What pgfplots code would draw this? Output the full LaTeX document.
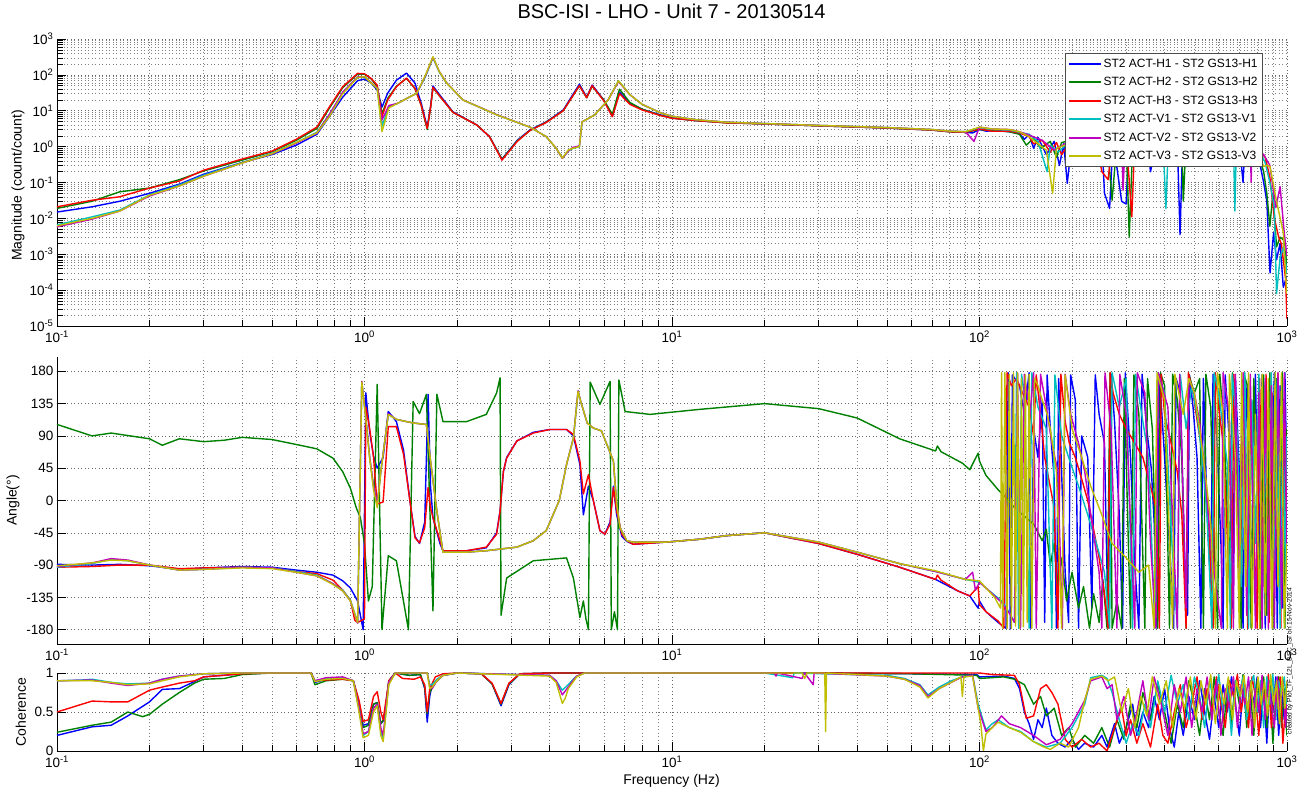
\documentclass[border=0pt]{standalone}
\usepackage{fontspec}
\setmainfont{Liberation Sans}
\usepackage{pgfplots}
\pgfplotsset{compat=1.18}
\definecolor{mblue}{rgb}{0,0,1}
\definecolor{mgreen}{rgb}{0,0.5,0}
\definecolor{mred}{rgb}{1,0,0}
\definecolor{mcyan}{rgb}{0,0.75,0.75}
\definecolor{mmag}{rgb}{0.75,0,0.75}
\definecolor{myel}{rgb}{0.75,0.75,0}
\pgfplotsset{
  every axis/.append style={
    scale only axis, width=1230pt,
    xmin=0.1, xmax=1000,
    axis x line*=bottom, axis y line*=left,
    axis line style={-, black, line width=0.6pt},
    tick align=inside,
    tick style={black, line width=0.5pt},
    major tick length=9pt, minor tick length=6pt,
    xtick={0.1,1,10,100,1000},
    xticklabels={10\textsuperscript{-1},10\textsuperscript{0},10\textsuperscript{1},10\textsuperscript{2},10\textsuperscript{3}},
    minor xtick={0.2,0.3,0.4,0.5,0.6,0.7,0.8,0.9,2,3,4,5,6,7,8,9,20,30,40,50,60,70,80,90,200,300,400,500,600,700,800,900},
    grid=both,
    major grid style={black!60, line width=0.5pt, dash pattern=on 0.9pt off 2.6pt},
    minor grid style={black!50, line width=0.5pt, dash pattern=on 0.9pt off 2.6pt},
    tick label style={font=\fontsize{13.5}{16}\selectfont},
    xticklabel style={yshift=-1.5pt},
    every axis label/.append style={font=\fontsize{14}{16}\selectfont},
  },
  every axis plot/.append style={line width=1.4pt, line join=round},
}
\begin{document}
\begin{tikzpicture}
\useasboundingbox (0,0) rectangle (1299pt,792pt);
% ---------------- Magnitude ----------------
\begin{loglogaxis}[at={(57pt,753pt)}, anchor=north west, height=287pt,
  ymin=1e-5, ymax=1e3,
  ytick={1e-5,1e-4,1e-3,1e-2,1e-1,1,10,100,1000},
  yticklabels={10\textsuperscript{-5},10\textsuperscript{-4},10\textsuperscript{-3},10\textsuperscript{-2},10\textsuperscript{-1},10\textsuperscript{0},10\textsuperscript{1},10\textsuperscript{2},10\textsuperscript{3}},
  minor ytick={2e-5,3e-5,4e-5,5e-5,6e-5,7e-5,8e-5,9e-5,2e-4,3e-4,4e-4,5e-4,6e-4,7e-4,8e-4,9e-4,2e-3,3e-3,4e-3,5e-3,6e-3,7e-3,8e-3,9e-3,2e-2,3e-2,4e-2,5e-2,6e-2,7e-2,8e-2,9e-2,0.2,0.3,0.4,0.5,0.6,0.7,0.8,0.9,2,3,4,5,6,7,8,9,20,30,40,50,60,70,80,90,200,300,400,500,600,700,800,900},
  ylabel={Magnitude (count/count)},
  ylabel style={at={(axis description cs:-0.0317,0.49)}, anchor=center},
  title={BSC-ISI - LHO - Unit 7 - 20130514},
  title style={at={(axis description cs:0.4996,1)}, anchor=center, yshift=21.5pt, font=\fontsize{20}{23}\selectfont},
  legend style={at={(axis description cs:0.9805,0.951)}, anchor=north east, font=\fontsize{12}{14}\selectfont, draw=black!70, line width=0.6pt, fill=white, inner xsep=3pt, inner ysep=3.5pt, row sep=4.6pt},
  legend cell align=left,
  legend image post style={xscale=1.85, line width=1.8pt},
]
\addplot[mblue, no markers] coordinates {(0.1,0.015)(0.13,0.021)(0.16,0.03)(0.2,0.05)(0.25,0.09)(0.3,0.17)(0.4,0.36)(0.5,0.6)(0.6,1.1)(0.7,2.2)(0.77,7)(0.85,24)(0.95,69)(1.0,76)(1.05,60)(1.1,38)(1.14,12.6)(1.19,31)(1.27,71)(1.37,112)(1.46,59)(1.53,16)(1.6,3.5)(1.64,13)(1.67,49)(1.76,27)(1.94,9.3)(2.32,4)(2.55,1.9)(2.8,0.45)(3.14,1.5)(3.45,2.9)(3.9,4.9)(4.43,10.5)(5.0,55)(5.28,24)(5.5,52)(6.0,20)(6.4,7)(6.75,33)(7.3,16)(8,11)(9.2,7.6)(10,6.3)(12,5.3)(15,4.7)(20,4.3)(30,3.8)(50,3.3)(70,2.9)(80,2.6)(90,2.5)(95,2.4)(100,3.0)(105,2.7)(115,2.8)(125,2.6)(135,2.3)(140,1.6)(145,2.2)(150,0.9)(155,1.8)(165,0.6)(175,1.4)(182,0.3)(188,1.2)(193,0.095)(200,1.5)(250,1.8)(255,0.05)(265,0.019)(272,1.5)(290,0.03)(300,0.025)(306,1.4)(330,2.0)(350,1.6)(360,0.2)(380,1.8)(440,1.5)(449,0.0035)(458,1.2)(500,1.7)(600,1.9)(700,1.2)(720,0.1)(730,1.0)(800,0.8)(840,0.1)(860,0.03)(881,0.0003)(905,0.004)(925,0.0007)(950,0.002)(973,0.00012)(1000,0.00025)};
\addlegendentry{ST2 ACT-H1 - ST2 GS13-H1}
\addplot[mgreen, no markers] coordinates {(0.1,0.019)(0.13,0.03)(0.16,0.055)(0.2,0.07)(0.25,0.12)(0.3,0.21)(0.4,0.42)(0.5,0.72)(0.6,1.5)(0.7,3.2)(0.77,12)(0.85,44)(0.95,105)(1.0,104)(1.05,78)(1.1,48)(1.14,8)(1.19,22)(1.27,48)(1.37,80)(1.46,41)(1.53,14)(1.6,3.0)(1.64,12)(1.67,44)(1.76,25)(1.94,9)(2.32,4)(2.55,1.9)(2.8,0.44)(3.14,1.45)(3.45,2.8)(3.9,4.8)(4.43,10)(5.0,50)(5.28,23)(5.5,48)(6.0,20)(6.4,8)(6.75,40)(7.3,17)(8,11)(9.2,7.4)(10,6.2)(12,5.3)(15,4.6)(20,4.3)(30,3.8)(50,3.3)(70,2.9)(80,2.6)(90,2.5)(100,3.0)(110,2.8)(125,2.6)(135,2.2)(142,1.1)(150,1.7)(158,0.9)(170,1.4)(178,0.5)(185,1.3)(200,1.5)(260,1.6)(270,0.032)(280,1.4)(300,1.6)(307,0.003)(315,1.2)(400,1.9)(455,1.3)(460,0.03)(470,1.5)(600,1.8)(750,1.3)(800,0.7)(840,0.2)(860,0.05)(880,0.006)(900,0.05)(925,0.0016)(950,0.003)(975,0.0025)(1000,0.0005)};
\addlegendentry{ST2 ACT-H2 - ST2 GS13-H2}
\addplot[mred, no markers] coordinates {(0.1,0.021)(0.13,0.032)(0.16,0.04)(0.2,0.07)(0.25,0.11)(0.3,0.22)(0.4,0.45)(0.5,0.75)(0.6,1.6)(0.7,3.5)(0.77,13)(0.85,47)(0.95,110)(1.0,107)(1.05,80)(1.1,52)(1.14,6.8)(1.19,20)(1.27,47)(1.37,81)(1.46,42)(1.53,14)(1.6,3.2)(1.64,12)(1.67,45)(1.76,25)(1.94,9)(2.32,4)(2.55,1.9)(2.8,0.42)(3.14,1.4)(3.45,2.8)(3.9,4.7)(4.43,10)(5.0,50)(5.28,23)(5.5,50)(6.0,19)(6.4,6.8)(6.75,30)(7.3,15)(8,10.5)(9.2,7.3)(10,6.2)(12,5.3)(15,4.6)(20,4.3)(30,3.8)(50,3.3)(70,2.9)(80,2.6)(90,2.5)(100,3.1)(110,2.7)(125,2.7)(135,2.4)(145,1.9)(150,1.2)(160,1.5)(170,0.7)(178,1.3)(185,0.6)(200,1.6)(240,1.8)(250,0.2)(262,0.12)(270,1.2)(300,1.7)(313,0.011)(320,1.5)(400,2)(500,1.6)(600,1.9)(700,1.4)(800,0.9)(850,0.5)(880,0.14)(910,0.01)(940,0.003)(960,0.0019)(990,0.0002)(1000,0.000016)};
\addlegendentry{ST2 ACT-H3 - ST2 GS13-H3}
\addplot[mcyan, no markers] coordinates {(0.1,0.0066)(0.13,0.011)(0.16,0.017)(0.2,0.045)(0.25,0.085)(0.3,0.16)(0.4,0.36)(0.5,0.65)(0.6,1.3)(0.7,2.5)(0.77,8)(0.85,32)(0.95,85)(1.0,85)(1.05,60)(1.1,42)(1.14,3.7)(1.2,13)(1.28,16)(1.48,31)(1.58,90)(1.67,300)(1.75,120)(1.85,59)(2.09,20)(2.7,7.6)(3.45,3.5)(3.9,1.9)(4.2,0.9)(4.4,0.48)(4.6,0.75)(4.76,0.9)(5.0,1.0)(5.1,4.9)(5.6,7.6)(6.2,20)(6.7,68)(7.3,28)(8,15)(9.2,8.7)(10,7)(12,5.6)(15,4.8)(20,4.4)(30,3.9)(50,3.4)(70,3.0)(80,2.7)(90,2.6)(100,3.4)(110,3.0)(125,2.9)(135,2.5)(145,2.2)(155,1.4)(166,0.2)(170,1.1)(180,0.7)(200,1.6)(300,1.9)(395,1.7)(404,0.019)(412,1.5)(500,1.9)(670,1.4)(677,0.016)(685,1.2)(800,1.1)(850,0.35)(880,0.1)(910,0.02)(925,0.00008)(950,0.0008)(975,0.0016)(1000,0.0003)};
\addlegendentry{ST2 ACT-V1 - ST2 GS13-V1}
\addplot[mmag, no markers] coordinates {(0.1,0.0058)(0.13,0.0095)(0.16,0.016)(0.2,0.042)(0.25,0.08)(0.3,0.15)(0.4,0.35)(0.5,0.63)(0.6,1.25)(0.7,2.4)(0.77,8)(0.85,33)(0.95,88)(1.0,88)(1.05,62)(1.1,43)(1.14,5.5)(1.2,14)(1.28,16)(1.48,31)(1.58,95)(1.67,310)(1.75,125)(1.85,60)(2.09,20)(2.7,7.7)(3.45,3.5)(3.9,1.9)(4.2,0.9)(4.4,0.47)(4.6,0.75)(4.76,0.95)(5.0,1.05)(5.1,4.9)(5.6,7.6)(6.2,20)(6.7,65)(7.3,28)(8,15)(9.2,8.7)(10,7)(12,5.6)(15,4.8)(20,4.4)(30,3.9)(50,3.4)(70,3.0)(80,2.7)(90,2.6)(96,1.4)(100,3.5)(110,3.1)(125,3.0)(135,2.6)(145,2.1)(160,1.5)(175,0.8)(190,1.2)(200,1.5)(290,1.8)(293,0.06)(298,1.5)(500,1.9)(760,1.3)(765,0.1)(770,1.1)(840,0.6)(880,0.3)(920,0.02)(950,0.076)(980,0.004)(1000,0.0009)};
\addlegendentry{ST2 ACT-V2 - ST2 GS13-V2}
\addplot[myel, no markers] coordinates {(0.1,0.0062)(0.13,0.01)(0.16,0.016)(0.2,0.044)(0.25,0.08)(0.3,0.15)(0.4,0.35)(0.5,0.63)(0.6,1.3)(0.7,2.4)(0.77,7)(0.85,30)(0.95,85)(1.0,89)(1.05,60)(1.1,42)(1.14,2.6)(1.2,12)(1.28,16)(1.48,31)(1.58,100)(1.67,320)(1.75,125)(1.85,59)(2.09,20)(2.7,7.6)(3.45,3.5)(3.9,1.9)(4.2,0.9)(4.4,0.48)(4.6,0.8)(4.76,0.9)(5.0,1.0)(5.1,4.9)(5.6,7.6)(6.2,20)(6.7,68)(7.3,28)(8,15)(9.2,8.7)(10,7)(12,5.6)(15,4.8)(20,4.4)(30,3.9)(50,3.4)(70,3.0)(80,2.7)(90,2.6)(100,3.5)(110,3.1)(125,3.0)(135,2.6)(145,1.9)(155,1.2)(165,0.8)(173,0.05)(178,0.9)(190,1.1)(200,1.5)(500,1.9)(800,1.3)(838,0.28)(860,0.3)(881,0.28)(925,0.03)(973,0.004)(998,0.00008)};
\addlegendentry{ST2 ACT-V3 - ST2 GS13-V3}
\end{loglogaxis}
% ---------------- Phase ----------------
\begin{semilogxaxis}[at={(57pt,435pt)}, anchor=north west, height=287pt,
  ymin=-200, ymax=200,
  ytick={-180,-135,-90,-45,0,45,90,135,180},
  yticklabels={-180,-135,-90,-45,0,45,90,135,180},
  ylabel={Angle(°)},
  ylabel style={at={(axis description cs:-0.0358,0.5)}, anchor=center},
]
\addplot[mblue, no markers] coordinates {(0.1,-89)(0.13,-90)(0.16,-89)(0.2,-91)(0.25,-96)(0.3,-94)(0.4,-92)(0.5,-93)(0.6,-97)(0.7,-100)(0.79,-104)(0.85,-112)(0.9,-122)(0.95,-140)(0.99,-180)(1.01,150)(1.04,95)(1.07,62)(1.1,45)(1.15,60)(1.195,124)(1.27,110)(1.34,70)(1.41,-5)(1.46,-50)(1.51,-60)(1.57,-30)(1.61,148)(1.64,20)(1.67,-24)(1.76,-60)(1.80,-70)(2.15,-70)(2.49,-66)(2.69,-45)(2.76,-15)(2.83,40)(2.90,60)(3.13,83)(3.54,95)(4.01,99)(4.54,99)(4.78,90)(5.02,50)(5.15,-20)(5.35,20)(5.55,0)(5.83,-42)(6.05,-47)(6.29,-30)(6.45,20)(6.61,-20)(6.87,-50)(7.13,-57)(7.48,-61)(9.58,-58)(12.3,-54)(15,-49)(20,-45)(30,-60)(40,-75)(55,-93)(72,-110)(85,-126)(93,-133)(99,-150)(100,-140)(105,-155)(115,-170)(122,-178)(124,178)(126,-179)(128,175)(135,160)(140,120)(145,178)(147,-178)(150,100)(155,60)(160,140)(163,-170)(166,175)(170,100)(175,30)(178,-178)(181,170)(185,40)(190,-100)(195,-170)(198,175)(205,140)(210,-178)(215,90)(225,60)(232,-150)(238,175)(245,120)(255,80)(262,-175)(268,176)(275,110)(285,-20)(292,-178)(298,178)(310,60)(320,-90)(330,-178)(338,176)(350,100)(362,45)(370,-30)(378,-178)(385,175)(400,60)(412,-40)(420,-100)(428,-178)(436,170)(450,150)(465,-80)(475,-160)(482,175)(495,130)(510,60)(525,-178)(535,170)(550,-20)(565,-120)(575,176)(590,100)(610,-60)(620,-178)(630,175)(650,80)(665,-150)(680,170)(700,40)(720,-178)(735,165)(750,60)(770,-120)(790,176)(810,-100)(830,175)(850,-178)(870,120)(890,-60)(910,178)(930,-178)(950,160)(970,-150)(985,178)(1000,20)};
\addplot[mgreen, no markers] coordinates {(0.1,106)(0.13,90)(0.15,94)(0.2,86)(0.22,77)(0.25,86)(0.3,82)(0.35,84)(0.4,88)(0.5,85)(0.617,77)(0.7,72)(0.79,59)(0.85,40)(0.9,17)(0.94,-10)(0.97,-24)(1.0,-60)(1.03,-140)(1.06,-120)(1.1,162)(1.14,-180)(1.195,-77)(1.27,-84)(1.39,-180)(1.44,138)(1.51,121)(1.59,148)(1.67,-154)(1.72,148)(1.80,110)(2.15,110)(2.49,120)(2.69,150)(2.76,171)(2.78,-160)(2.90,-108)(3.54,-84)(4.54,-80)(4.78,-108)(5.02,-163)(5.15,-140)(5.25,-165)(5.35,-180)(5.42,165)(5.83,134)(6.29,166)(6.35,-180)(6.5,-155)(6.65,-180)(6.72,168)(7.04,124)(8.48,120)(12.3,127)(20,135)(30,128)(40,115)(55,86)(72,69)(73,76)(75,68)(88,52)(93,43)(99,66)(100,55)(105,35)(115,15)(122,4)(130,-10)(150,-33)(160,-56)(165,-40)(170,-90)(175,-60)(180,-120)(185,-80)(192,-140)(200,-100)(210,-150)(218,-120)(228,-178)(235,-130)(245,-170)(252,-110)(260,-178)(266,178)(270,-178)(280,-140)(290,-178)(296,170)(300,60)(310,-178)(318,175)(330,120)(345,-178)(352,170)(365,100)(380,-178)(388,178)(400,160)(415,-178)(425,176)(440,140)(455,60)(470,-178)(480,175)(500,150)(520,170)(535,-178)(545,176)(565,130)(580,-60)(595,-178)(605,176)(625,100)(650,-100)(665,178)(690,20)(710,-178)(725,175)(745,160)(765,-178)(780,170)(800,40)(820,-178)(840,175)(860,-160)(880,178)(900,-178)(925,170)(945,-120)(965,178)(985,-178)(1000,100)};
\addplot[mred, no markers] coordinates {(0.1,-93)(0.13,-92)(0.16,-90)(0.2,-90)(0.25,-95)(0.3,-94)(0.4,-93)(0.5,-94)(0.6,-99)(0.7,-102)(0.79,-111)(0.85,-125)(0.9,-139)(0.93,-167)(0.95,-170)(1.0,-165)(1.01,130)(1.04,100)(1.07,60)(1.1,-5)(1.15,-2)(1.195,103)(1.27,103)(1.34,64)(1.41,-5)(1.46,-52)(1.51,-59)(1.57,-38)(1.61,18)(1.64,-10)(1.67,-24)(1.76,-56)(1.80,-70)(2.15,-70)(2.49,-65)(2.69,-47)(2.76,-15)(2.83,41)(2.90,59)(3.13,83)(3.54,94)(4.01,99)(4.54,99)(4.78,92)(5.02,55)(5.15,9)(5.35,36)(5.55,0)(5.83,-42)(6.05,-47)(6.29,-33)(6.45,18)(6.61,-15)(6.87,-47)(7.13,-56)(7.48,-61)(9.58,-58)(12.3,-54)(15,-49)(20,-45)(30,-60)(40,-75)(55,-93)(72,-110)(73,-104)(75,-111)(85,-126)(93,-133)(99,-120)(100,-145)(105,-155)(115,-168)(120,-178)(123,178)(127,160)(132,170)(138,150)(145,130)(150,90)(153,175)(158,120)(163,60)(168,30)(175,-10)(180,-178)(184,176)(190,110)(196,80)(205,60)(215,30)(225,0)(235,-40)(245,-80)(255,-130)(262,-178)(266,178)(272,150)(285,120)(300,100)(320,80)(340,60)(360,20)(375,-10)(385,-178)(390,176)(400,120)(420,80)(440,40)(455,-20)(470,-178)(478,178)(495,150)(515,100)(535,60)(555,-20)(575,-178)(585,178)(600,130)(620,80)(640,-50)(660,-178)(672,176)(690,60)(710,-100)(725,178)(745,-178)(760,120)(780,-40)(800,-178)(815,170)(835,-120)(855,176)(875,-170)(895,150)(915,-90)(935,178)(955,-178)(975,140)(1000,-60)};
\addplot[mcyan, no markers] coordinates {(0.1,-93)(0.13,-88)(0.15,-82)(0.17,-84)(0.2,-90)(0.25,-97)(0.3,-96)(0.4,-93)(0.5,-94)(0.6,-99)(0.7,-104)(0.79,-116)(0.85,-125)(0.9,-139)(0.95,-170)(0.98,165)(1.01,115)(1.04,60)(1.07,20)(1.1,-5)(1.13,40)(1.195,120)(1.27,113)(1.44,108)(1.59,106)(1.64,55)(1.72,-15)(1.80,-72)(2.15,-72)(2.49,-70)(3.13,-65)(3.54,-56)(3.9,-42)(4.3,0)(4.54,50)(4.78,87)(4.95,152)(5.05,138)(5.3,108)(5.55,101)(5.9,97)(6.45,55)(6.61,-5)(6.78,-38)(7.13,-56)(7.48,-58)(9.58,-58)(12.3,-54)(15,-49)(20,-45)(30,-58)(40,-72)(55,-88)(72,-99)(90,-110)(100,-114)(105,-122)(118,-140)(125,-156)(130,-170)(132,178)(134,-178)(137,176)(140,150)(145,-178)(148,178)(155,130)(165,100)(172,-178)(176,175)(185,90)(195,60)(210,20)(225,-20)(240,-60)(255,-100)(265,-178)(270,178)(285,130)(300,170)(315,-178)(322,176)(340,110)(355,60)(372,-178)(380,178)(400,150)(420,-40)(440,-178)(450,175)(470,100)(490,160)(510,120)(530,60)(550,-20)(570,-178)(580,178)(600,150)(620,100)(640,50)(655,-178)(665,176)(690,90)(710,-120)(730,178)(750,-178)(770,140)(790,-60)(810,176)(830,-178)(850,100)(870,-150)(890,178)(910,-120)(930,170)(950,-178)(970,120)(990,-100)(1000,90)};
\addplot[mmag, no markers] coordinates {(0.1,-92)(0.13,-87)(0.15,-81)(0.17,-83)(0.2,-90)(0.25,-97)(0.3,-96)(0.4,-93)(0.5,-94)(0.6,-100)(0.7,-105)(0.79,-116)(0.85,-126)(0.9,-140)(0.95,-171)(0.98,166)(1.01,116)(1.04,60)(1.07,20)(1.1,-5)(1.13,40)(1.195,121)(1.27,113)(1.44,108)(1.59,106)(1.64,55)(1.72,-15)(1.80,-72)(2.15,-72)(2.49,-70)(3.13,-65)(3.54,-56)(3.9,-42)(4.3,0)(4.54,50)(4.78,87)(4.95,153)(5.05,138)(5.3,108)(5.55,101)(5.9,97)(6.45,55)(6.61,-5)(6.78,-38)(7.13,-56)(7.48,-58)(9.58,-58)(12.3,-54)(15,-49)(20,-45)(30,-58)(40,-72)(55,-88)(72,-99)(90,-110)(95,-100)(97,-125)(100,-114)(105,-122)(118,-142)(125,-157)(130,-170)(133,178)(136,-178)(140,176)(146,120)(150,178)(153,-178)(158,176)(165,130)(172,80)(180,40)(186,-178)(190,176)(198,120)(210,80)(220,40)(232,-30)(245,-100)(250,-178)(256,178)(268,100)(280,-178)(286,176)(300,120)(320,-178)(326,178)(345,150)(360,-60)(375,-178)(382,178)(410,130)(440,-178)(448,176)(470,-150)(480,170)(500,150)(520,110)(540,40)(560,-40)(580,-100)(600,-150)(612,-178)(620,178)(650,120)(670,-178)(680,176)(700,-120)(720,178)(740,-160)(760,176)(790,-178)(810,150)(830,-178)(850,170)(870,-178)(890,160)(910,-178)(935,178)(960,-150)(980,178)(1000,-60)};
\addplot[myel, no markers] coordinates {(0.1,-91)(0.13,-87)(0.15,-83)(0.17,-84)(0.2,-90)(0.25,-97)(0.3,-96)(0.4,-94)(0.5,-95)(0.6,-100)(0.7,-105)(0.79,-117)(0.85,-126)(0.9,-140)(0.95,-170)(0.98,165)(1.01,114)(1.04,58)(1.07,15)(1.1,-10)(1.13,40)(1.195,120)(1.27,113)(1.44,108)(1.59,106)(1.64,55)(1.72,-15)(1.80,-72)(2.15,-72)(2.49,-70)(3.13,-65)(3.54,-56)(3.9,-42)(4.3,0)(4.54,50)(4.78,87)(4.95,152)(5.05,138)(5.3,108)(5.55,101)(5.9,97)(6.45,55)(6.61,-5)(6.78,-38)(7.13,-56)(7.48,-58)(9.58,-58)(12.3,-54)(15,-49)(20,-45)(30,-58)(40,-72)(55,-88)(72,-98)(90,-110)(100,-112)(105,-122)(112,-135)(117,-150)(118,178)(119,-178)(121,178)(123,-178)(125,176)(127,-178)(129,178)(131,-175)(133,178)(135,-178)(137,170)(139,-176)(141,175)(143,-170)(145,176)(148,-178)(151,170)(155,160)(160,140)(166,120)(170,100)(178,40)(185,-178)(190,175)(200,100)(215,60)(230,20)(250,-20)(270,-60)(300,-80)(330,-100)(355,-90)(370,-178)(378,178)(400,140)(425,-178)(432,176)(460,120)(480,170)(500,150)(520,100)(545,30)(565,-30)(585,-178)(595,178)(620,120)(640,-178)(650,176)(680,60)(700,-178)(712,178)(735,-120)(750,178)(770,-178)(790,120)(815,-178)(830,176)(850,-160)(870,170)(895,-178)(915,178)(935,-120)(960,178)(980,-178)(1000,-60)};
\end{semilogxaxis}
% ---------------- Coherence ----------------
\begin{semilogxaxis}[at={(57pt,119pt)}, anchor=north west, height=78pt,
  ymin=0, ymax=1,
  ytick={0,0.5,1}, yticklabels={0,0.5,1},
  ylabel={Coherence},
  ylabel style={at={(axis description cs:-0.0293,0.5)}, anchor=center},
  xlabel={Frequency (Hz)},
  xlabel style={at={(axis description cs:0.4996,0)}, anchor=center, yshift=-30pt},
]
\addplot[mblue, no markers] coordinates {(0.1,0.2)(0.13,0.31)(0.15,0.33)(0.17,0.45)(0.2,0.63)(0.22,0.79)(0.25,0.8)(0.28,0.89)(0.3,0.95)(0.4,0.99)(0.5,1)(0.67,1)(0.69,0.88)(0.75,0.92)(0.85,0.93)(0.92,0.9)(0.96,0.6)(0.99,0.33)(1.03,0.35)(1.07,0.6)(1.10,0.62)(1.13,0.35)(1.16,0.4)(1.2,0.9)(1.26,1)(1.4,0.97)(1.52,0.98)(1.57,0.8)(1.6,0.37)(1.63,0.7)(1.66,0.85)(1.72,0.9)(1.8,0.97)(2.0,1)(2.4,0.99)(2.6,0.86)(2.78,0.58)(2.95,0.85)(3.2,0.99)(4,1)(30,1)(60,0.99)(98,0.98)(100,0.95)(120,0.96)(130,0.93)(135,0.8)(140,0.5)(145,0.35)(150,0.15)(155,0.4)(160,0.3)(165,0.55)(172,0.2)(180,0.1)(190,0.05)(200,0.15)(210,0.02)(220,0.1)(235,0.05)(250,0.2)(260,0.05)(275,0.35)(285,0.1)(300,0.3)(315,0.6)(325,0.2)(340,0.5)(355,0.3)(370,0.7)(385,0.4)(400,0.8)(415,0.3)(430,0.05)(445,0.5)(460,0.2)(480,0.7)(500,0.4)(520,0.9)(540,0.5)(560,0.15)(580,0.7)(600,0.3)(620,0.85)(640,0.5)(660,0.95)(680,0.6)(700,0.2)(720,0.8)(740,0.4)(760,0.9)(780,0.6)(800,0.95)(820,0.3)(840,0.8)(860,0.1)(880,0.9)(900,0.5)(920,0.95)(940,0.2)(960,0.8)(980,0.4)(1000,0.9)};
\addplot[mgreen, no markers] coordinates {(0.1,0.24)(0.13,0.33)(0.15,0.37)(0.17,0.5)(0.19,0.44)(0.2,0.47)(0.22,0.6)(0.25,0.75)(0.28,0.87)(0.3,0.92)(0.35,0.93)(0.4,0.98)(0.5,1)(0.67,1)(0.69,0.85)(0.75,0.9)(0.85,0.92)(0.92,0.9)(0.96,0.6)(0.99,0.3)(1.03,0.33)(1.07,0.6)(1.10,0.62)(1.13,0.35)(1.16,0.42)(1.2,0.9)(1.26,1)(1.4,0.97)(1.52,0.98)(1.57,0.82)(1.6,0.48)(1.63,0.75)(1.7,0.88)(1.8,0.97)(2.0,1)(2.4,0.99)(2.6,0.86)(2.78,0.6)(2.95,0.86)(3.2,0.99)(4,1)(30,1)(60,0.99)(98,0.97)(100,0.93)(120,0.95)(130,0.92)(140,0.85)(150,0.6)(158,0.7)(165,0.45)(175,0.55)(185,0.2)(195,0.3)(205,0.05)(220,0.2)(235,0.1)(250,0.3)(265,0.05)(280,0.4)(295,0.15)(310,0.6)(325,0.3)(340,0.75)(360,0.4)(380,0.85)(400,0.5)(420,0.1)(440,0.6)(460,0.3)(480,0.9)(500,0.6)(520,0.2)(540,0.8)(560,0.4)(580,0.95)(600,0.5)(620,0.2)(640,0.85)(660,0.35)(680,0.9)(700,0.6)(720,0.98)(740,0.3)(760,0.8)(780,0.2)(800,0.9)(820,0.5)(840,0.95)(860,0.3)(880,0.85)(900,0.1)(920,0.7)(940,0.95)(960,0.3)(980,0.8)(1000,0.2)};
\addplot[mred, no markers] coordinates {(0.1,0.5)(0.13,0.64)(0.15,0.63)(0.17,0.63)(0.2,0.78)(0.22,0.82)(0.25,0.87)(0.28,0.9)(0.3,0.95)(0.4,0.99)(0.5,1)(0.67,1)(0.69,0.9)(0.75,0.91)(0.85,0.92)(0.92,0.9)(0.96,0.65)(0.99,0.38)(1.03,0.4)(1.07,0.7)(1.10,0.76)(1.13,0.5)(1.15,0.4)(1.2,0.9)(1.26,1)(1.33,0.93)(1.45,0.92)(1.52,0.95)(1.57,0.85)(1.6,0.5)(1.63,0.8)(1.7,0.95)(1.8,0.99)(2.0,1)(2.4,0.99)(2.6,0.87)(2.78,0.61)(2.95,0.87)(3.2,0.99)(4,1)(30,1)(100,1)(110,0.98)(130,0.97)(135,0.85)(142,0.42)(150,0.45)(158,0.8)(165,0.85)(172,0.75)(180,0.6)(190,0.15)(200,0.05)(215,0.15)(230,0.05)(245,0.1)(260,0.0)(275,0.3)(290,0.55)(300,0.2)(310,0.4)(325,0.1)(340,0.35)(360,0.05)(380,0.6)(395,0.2)(410,0.1)(430,0.5)(450,0.85)(470,0.3)(490,0.6)(510,0.95)(530,0.4)(550,0.8)(570,0.5)(590,0.95)(610,0.6)(630,0.3)(650,0.9)(670,0.7)(690,0.98)(710,0.5)(730,0.85)(750,0.3)(770,0.95)(790,0.7)(810,0.2)(830,0.9)(850,0.6)(870,0.98)(890,0.3)(910,0.8)(930,0.55)(950,0.95)(970,0.1)(990,0.6)(1000,0.4)};
\addplot[mcyan, no markers] coordinates {(0.1,0.9)(0.12,0.91)(0.13,0.92)(0.15,0.88)(0.17,0.86)(0.2,0.87)(0.22,0.92)(0.25,0.96)(0.3,0.99)(0.4,1)(0.67,1)(0.69,0.9)(0.75,0.93)(0.85,0.94)(0.92,0.9)(0.96,0.55)(0.99,0.2)(1.03,0.25)(1.07,0.55)(1.10,0.6)(1.13,0.25)(1.15,0.15)(1.2,0.88)(1.26,1)(1.6,1)(1.63,0.85)(1.66,0.85)(1.72,0.92)(1.8,0.97)(2.0,1)(4.0,0.97)(4.2,0.9)(4.4,0.78)(4.6,0.85)(4.8,0.93)(4.9,0.96)(5.2,1)(20,1)(24.7,0.94)(25,1)(50,0.97)(57,0.93)(64,0.85)(68,0.72)(74,0.82)(81,0.9)(88,0.95)(95,0.97)(99,0.6)(105,0.27)(110,0.35)(115,0.4)(125,0.3)(136,0.25)(150,0.12)(165,0.05)(183,0.1)(200,0.3)(220,0.6)(230,0.94)(250,0.97)(260,0.93)(270,0.75)(285,0.4)(300,0.1)(315,0.35)(330,0.2)(345,0.6)(360,0.3)(380,0.9)(400,0.5)(420,0.97)(440,0.6)(460,0.85)(480,0.4)(500,0.95)(520,0.7)(540,0.3)(560,0.9)(580,0.6)(600,0.98)(620,0.5)(640,0.85)(660,0.2)(680,0.9)(700,0.7)(720,0.95)(740,0.4)(760,0.85)(780,0.97)(800,0.5)(820,0.9)(840,0.3)(860,0.95)(880,0.6)(900,0.98)(920,0.4)(940,0.9)(960,0.7)(980,0.95)(1000,0.5)};
\addplot[mmag, no markers] coordinates {(0.1,0.9)(0.13,0.91)(0.15,0.87)(0.17,0.84)(0.2,0.87)(0.22,0.92)(0.25,0.96)(0.3,0.99)(0.4,1)(0.67,1)(0.69,0.9)(0.75,0.94)(0.85,0.95)(0.92,0.9)(0.96,0.55)(0.99,0.22)(1.03,0.25)(1.07,0.55)(1.10,0.6)(1.13,0.3)(1.15,0.2)(1.2,0.88)(1.26,1)(1.6,1)(1.63,0.82)(1.66,0.8)(1.72,0.9)(1.8,0.97)(2.0,1)(4.0,0.97)(4.2,0.9)(4.4,0.72)(4.6,0.82)(4.8,0.92)(4.9,0.96)(5.2,1)(21.5,1)(21.8,0.96)(22,1)(26.5,0.93)(27,1)(28.8,0.85)(29,1)(50,0.96)(57,0.92)(64,0.84)(68,0.7)(74,0.8)(81,0.88)(88,0.95)(95,0.97)(99,0.55)(105,0.25)(110,0.3)(118,0.45)(125,0.35)(136,0.3)(150,0.2)(165,0.08)(183,0.15)(200,0.35)(220,0.65)(230,0.9)(250,0.95)(260,0.8)(270,0.85)(280,0.4)(295,0.7)(310,0.2)(325,0.5)(340,0.9)(355,0.4)(370,0.95)(390,0.6)(410,0.2)(430,0.85)(450,0.5)(470,0.95)(490,0.3)(510,0.8)(530,0.5)(550,0.95)(570,0.4)(590,0.9)(610,0.2)(630,0.8)(650,0.55)(670,0.95)(690,0.3)(710,0.85)(730,0.6)(750,0.95)(770,0.2)(790,0.8)(810,0.5)(830,0.97)(850,0.4)(870,0.9)(890,0.6)(910,0.3)(930,0.95)(950,0.5)(970,0.9)(990,0.3)(1000,0.6)};
\addplot[myel, no markers] coordinates {(0.1,0.9)(0.13,0.9)(0.15,0.88)(0.17,0.85)(0.2,0.86)(0.22,0.9)(0.25,0.95)(0.3,0.99)(0.4,1)(0.67,1)(0.69,0.89)(0.75,0.92)(0.85,0.93)(0.92,0.9)(0.96,0.5)(0.99,0.17)(1.03,0.2)(1.07,0.5)(1.10,0.58)(1.13,0.2)(1.15,0.12)(1.2,0.85)(1.26,1)(1.6,1)(1.63,0.8)(1.66,0.82)(1.72,0.9)(1.8,0.97)(2.0,1)(4.0,0.96)(4.2,0.88)(4.4,0.61)(4.5,0.68)(4.6,0.8)(4.8,0.9)(4.9,0.95)(5.2,1)(26.5,1)(27,0.93)(27.5,1)(31.4,1)(31.6,0.25)(31.8,1)(50,0.96)(57,0.92)(64,0.82)(68,0.68)(74,0.8)(81,0.88)(87,0.95)(88,0.7)(89,0.95)(95,0.96)(99,0.55)(101,0.35)(103,0.0)(105,0.22)(110,0.3)(115,0.37)(125,0.3)(136,0.24)(150,0.12)(160,0.06)(170,0.02)(183,0.1)(195,0.05)(210,0.3)(220,0.65)(230,0.92)(250,0.96)(262,0.9)(275,0.95)(290,0.5)(305,0.8)(320,0.3)(335,0.7)(350,0.45)(365,0.95)(385,0.6)(405,0.9)(425,0.3)(445,0.8)(465,0.55)(485,0.95)(505,0.4)(525,0.9)(545,0.6)(565,0.98)(585,0.35)(605,0.85)(625,0.6)(645,0.95)(665,0.4)(685,0.9)(705,0.7)(725,0.97)(745,0.5)(765,0.9)(785,0.3)(805,0.95)(825,0.6)(845,0.9)(865,0.45)(885,0.98)(905,0.6)(925,0.9)(945,0.35)(965,0.95)(985,0.55)(1000,0.9)};
\end{semilogxaxis}
\node[rotate=90, font=\fontsize{6.5}{8}\selectfont, anchor=center] at (1290pt,131pt) {created by Plot\_TF\_L2L\_BSC\_ISI on 15-Nov-2014};
\end{tikzpicture}
\end{document}
